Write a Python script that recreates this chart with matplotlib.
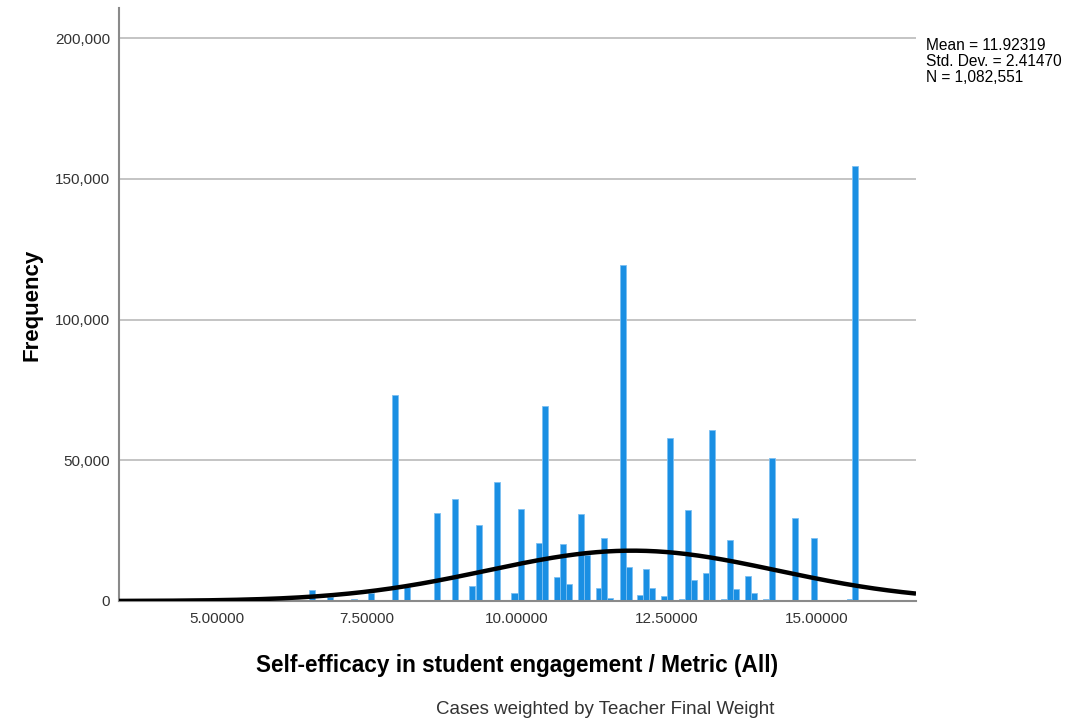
import numpy as np
import matplotlib.pyplot as plt

plt.rcParams['font.family'] = ['Liberation Sans', 'DejaVu Sans']

# bar centres (scale value) and frequencies
bar_centers = [5.05, 6.58, 6.88, 7.29, 7.57, 7.97, 8.17, 8.28, 8.40,
               8.67, 8.97, 9.25, 9.37, 9.47, 9.67, 9.96, 10.07, 10.17,
               10.37, 10.47, 10.66, 10.77, 10.86, 11.06, 11.16, 11.36,
               11.45, 11.55, 11.77, 11.86, 12.05, 12.15, 12.25, 12.45,
               12.55, 12.75, 12.85, 12.95, 13.15, 13.25, 13.45, 13.55,
               13.65, 13.85, 13.95, 14.15, 14.25, 14.63, 14.95, 15.55, 15.64]
frequencies = [300, 3900, 1400, 700, 2800, 73200, 5000, 500, 400,
               31200, 36200, 5300, 27000, 400, 42300, 2800, 32700, 500,
               20600, 69300, 8500, 20300, 6000, 31000, 16300, 4600,
               22400, 1000, 119400, 12100, 2100, 11400, 4600, 1800,
               57900, 600, 32300, 7400, 9900, 60700, 600, 21700,
               4300, 8900, 2800, 600, 50800, 29500, 22400, 600, 154500]

bin_width = 0.1
mean = 11.92319
std_dev = 2.41470
n_cases = 1082551

x_min, x_max = 3.37, 16.65
y_max = 210700
y_ticks = [0, 50000, 100000, 150000, 200000]
x_ticks = [5.0, 7.5, 10.0, 12.5, 15.0]

fig = plt.figure(figsize=(10.70, 7.21), dpi=100)
ax = fig.add_axes([119 / 1070, 1 - 601 / 721, (916 - 119) / 1070, (601 - 8) / 721])

ax.bar(bar_centers, frequencies, width=bin_width, color='#1a8fe3',
       edgecolor='#7cc0f2', linewidth=0.6, zorder=2)

# fitted normal curve
xs = np.linspace(x_min, x_max, 400)
curve = n_cases * bin_width * np.exp(-0.5 * ((xs - mean) / std_dev) ** 2) / (std_dev * np.sqrt(2 * np.pi))
ax.plot(xs, curve, color='black', linewidth=3.2, zorder=3, solid_capstyle='butt')

ax.set_xlim(x_min, x_max)
ax.set_ylim(0, y_max)
ax.set_xticks(x_ticks)
ax.set_xticklabels([f"{v:.5f}" for v in x_ticks])
ax.set_yticks(y_ticks)
ax.set_yticklabels([f"{v:,}" for v in y_ticks])
ax.tick_params(length=0, labelsize=11, labelcolor='#333333')
ax.tick_params(axis='x', pad=8)
ax.tick_params(axis='y', pad=6.5)

ax.grid(axis='y', color='#c4c4c4', linewidth=1.4, zorder=0)
ax.set_axisbelow(True)
for side in ['top', 'right']:
    ax.spines[side].set_visible(False)
for side in ['left', 'bottom']:
    ax.spines[side].set_color('#8a8a8a')
    ax.spines[side].set_linewidth(1.5)

ax.set_xlabel("Self-efficacy in student engagement / Metric (All)",
              fontsize=16.3, fontweight='bold', labelpad=20)
ax.set_ylabel("Frequency", fontsize=16, fontweight='bold', labelpad=9)

fig.text(926 / 1070, 1 - 38 / 721,
         "Mean = 11.92319\nStd. Dev. = 2.41470\nN = 1,082,551",
         fontsize=11.2, va='top', ha='left', linespacing=1.08)
fig.text(605 / 1070, 1 - 709 / 721, "Cases weighted by Teacher Final Weight",
         fontsize=13.5, color='#333333', ha='center', va='center')

fig.savefig('out.png', dpi=100)
